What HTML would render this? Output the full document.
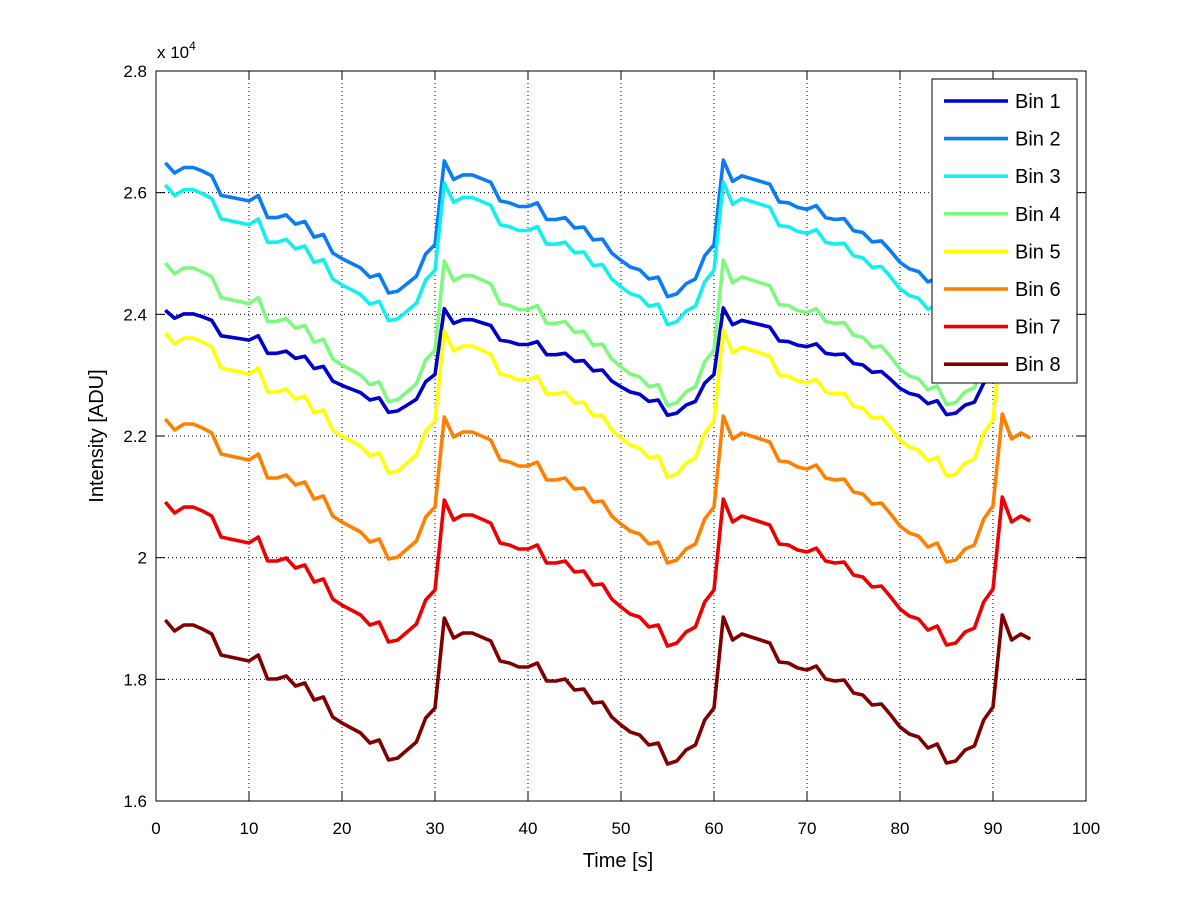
<!DOCTYPE html>
<html><head><meta charset="utf-8"><style>
body{margin:0;background:#fff;}
svg{display:block;font-family:"Liberation Sans",Arial,sans-serif;}
</style></head><body>
<svg id="chart" width="1200" height="901" viewBox="0 0 1200 901">
<rect x="0" y="0" width="1200" height="901" fill="#fff"/>
<g id="grid"></g>
<g id="series"></g>
<rect x="156" y="71" width="930" height="730" fill="none" stroke="#000" stroke-width="1"/>
<g id="ticks"></g>
<text x="157" y="58" font-size="17">x 10<tspan dy="-8" font-size="12">4</tspan></text>
<text x="618" y="867" font-size="20" text-anchor="middle">Time [s]</text>
<text x="103" y="436" font-size="20" text-anchor="middle" transform="rotate(-90 103 436)">Intensity [ADU]</text>
<g id="legend"></g>
</svg>
<script>
const xTicks = [0,10,20,30,40,50,60,70,80,90,100];
const yTicks = [16000,18000,20000,22000,24000,26000,28000];
const yTickLabels = ["1.6","1.8","2","2.2","2.4","2.6","2.8"];
const times = [];
for (let i = 1; i <= 94; i++) times.push(i);
// common shape: drop below peak (ADU) read from Bin 8
const shapeDrop = [49,230,132,132,197,280,625,658,690,723,625,1019,1019,970,1134,1085,1364,1315,1644,1743,1825,1907,2071,2022,2351,2318,2186,2055,1660,1496,16,345,263,263,329,395,723,756,822,822,756,1052,1052,1019,1200,1184,1414,1397,1644,1775,1891,1940,2104,2071,2417,2367,2186,2104,1693,1496,0,378,279,329,378,427,740,756,838,871,806,1019,1052,1036,1249,1282,1447,1430,1611,1808,1923,1973,2154,2088,2400,2367,2186,2121,1693,1480,-33,378,279,362];
const binNames = ["Bin 1","Bin 2","Bin 3","Bin 4","Bin 5","Bin 6","Bin 7","Bin 8"];
const binPeak = [24104,26537,26175,24893,23742,22329,20964,19025];
const binAmp = [0.73,0.93,0.97,0.99,1.0,1.0,1.0,1.0];
const binColors = ["#0000cc","#0a7cf5","#10f0f0","#7dfa7d","#ffff00","#ff8000","#ee0000","#800000"];

const NS = "http://www.w3.org/2000/svg";
const X0=156,X1=1086,Y0=801,Y1=71;
const xScale = v => X0 + (v-0)/(100-0)*(X1-X0);
const yScale = v => Y0 - (v-16000)/(28000-16000)*(Y0-Y1);
function mk(tag, attrs, parent){const e=document.createElementNS(NS,tag);for(const k in attrs)e.setAttribute(k,attrs[k]);parent.appendChild(e);return e;}

const grid=document.getElementById('grid'), ticks=document.getElementById('ticks');
xTicks.forEach((t,i)=>{
  const x=xScale(t);
  if(i>0&&i<xTicks.length-1){
    const g=mk('line',{x1:x,y1:Y1,x2:x,y2:Y0,stroke:'#000','stroke-width':1,'stroke-dasharray':'1 3'},grid);
    
    
  }
  const tk=mk('line',{x1:x,y1:Y0,x2:x,y2:Y0-9,stroke:'#000'},ticks);
  
  
  const tk2=mk('line',{x1:x,y1:Y1,x2:x,y2:Y1+9,stroke:'#000'},ticks);
  
  
  const lb=mk('text',{x:x,y:834,'font-size':17,'text-anchor':'middle'},ticks);
  lb.textContent=String(t);
  
  
});
yTicks.forEach((t,i)=>{
  const y=yScale(t);
  if(i>0&&i<yTicks.length-1){
    const g=mk('line',{x1:X0,y1:y,x2:X1,y2:y,stroke:'#000','stroke-width':1,'stroke-dasharray':'1 3'},grid);
    
    
  }
  const tk=mk('line',{x1:X0,y1:y,x2:X0+9,y2:y,stroke:'#000'},ticks);
  
  
  const tk2=mk('line',{x1:X1,y1:y,x2:X1-9,y2:y,stroke:'#000'},ticks);
  
  
  const lb=mk('text',{x:147,y:y+6,'font-size':17,'text-anchor':'end'},ticks);
  lb.textContent=yTickLabels[i];
  
  
});

const series=document.getElementById('series');
binNames.forEach((name,k)=>{
  const pts=times.map((t,i)=>{
    const v=binPeak[k]-binAmp[k]*shapeDrop[i];
    return xScale(t).toFixed(1)+','+yScale(v).toFixed(1);
  }).join(' ');
  const pl=mk('polyline',{points:pts,fill:'none',stroke:binColors[k],'stroke-width':3.6,'stroke-linejoin':'round'},series);
  
  
});

const legend=document.getElementById('legend');
const box=mk('rect',{x:932,y:79,width:145,height:304,fill:'#fff',stroke:'#000','stroke-width':1},legend);


binNames.forEach((name,k)=>{
  const y=101+k*37.6;
  const ln=mk('line',{x1:944,y1:y,x2:1008,y2:y,stroke:binColors[k],'stroke-width':3.6},legend);
  
  
  const tx=mk('text',{x:1015,y:y+7,'font-size':20},legend);
  tx.textContent=name;
  
  
});
</script>
</body></html>
